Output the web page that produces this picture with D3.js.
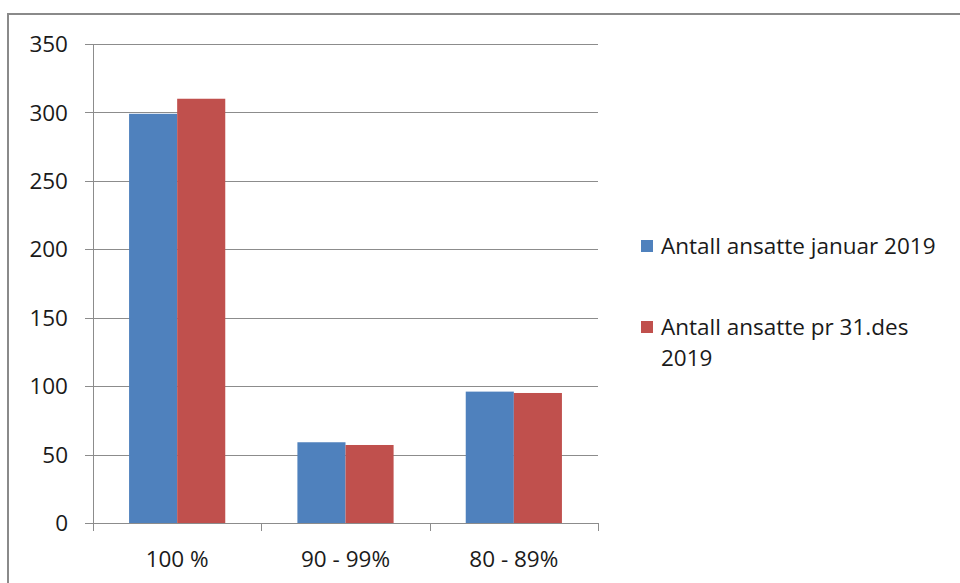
<!DOCTYPE html>
<html><head><meta charset="utf-8">
<script src="https://cdn.jsdelivr.net/npm/d3@7"></script>
<style>body{margin:0;background:#fff}svg{display:block}</style>
</head><body>
<svg id="c" width="960" height="583"></svg>
<script>
const categories = ["100 %", "90 - 99%", "80 - 89%"];
const seriesNames = ["Antall ansatte januar 2019", "Antall ansatte pr 31.des 2019"];
const januar = [299, 59, 96];
const desember = [310, 57, 95];
const yTicks = [0, 50, 100, 150, 200, 250, 300, 350];
const colors = ["#4F81BD", "#C0504D"];

const svg = d3.select("#c");
const font = "'Open Sans', sans-serif";
const fs = 22.5;
const pLeft = 93, pRight = 598, pTop = 44, pBottom = 523;

svg.append("rect").attr("x", 8).attr("y", 14).attr("width", 1000).attr("height", 700)
  .attr("fill", "#fff").attr("stroke", "#8a8a8a").attr("stroke-width", 2);

const x = d3.scaleBand().domain(categories).range([pLeft, pRight]).paddingInner(0).paddingOuter(0);
const y = d3.scaleLinear().domain([0, 350]).range([pBottom, pTop]);
const xs = d3.scaleBand().domain([0, 1]).range([0, x.bandwidth()]).paddingInner(0).paddingOuter(0.75);

// grid
svg.append("g").selectAll("line").data(yTicks).join("line")
  .attr("x1", pLeft - 8).attr("x2", pRight)
  .attr("y1", d => Math.round(y(d)) + 0.5).attr("y2", d => Math.round(y(d)) + 0.5)
  .attr("stroke", "#8c8c8c").attr("stroke-width", 1);

// y axis line
svg.append("line").attr("x1", pLeft + 0.5).attr("x2", pLeft + 0.5).attr("y1", pTop).attr("y2", pBottom)
  .attr("stroke", "#8c8c8c");

// y labels
svg.append("g").selectAll("text").data(yTicks).join("text")
  .attr("x", 68).attr("y", d => y(d)).attr("dy", "0.36em").attr("text-anchor", "end")
  .attr("font-family", font).attr("font-size", fs).attr("fill", "#1a1a1a").text(d => d);

// bars
const series = [januar, desember];
series.forEach((vals, si) => {
  svg.append("g").selectAll("rect").data(categories).join("rect")
    .attr("x", c => x(c) + xs(si)).attr("width", xs.bandwidth())
    .attr("y", (c, i) => y(vals[i])).attr("height", (c, i) => y(0) - y(vals[i]))
    .attr("fill", colors[si]);
});

// x axis ticks
const bounds = categories.map(c => x(c)).concat([pRight]);
svg.append("g").selectAll("line").data(bounds).join("line")
  .attr("x1", d => Math.round(d) + 0.5).attr("x2", d => Math.round(d) + 0.5)
  .attr("y1", pBottom).attr("y2", pBottom + 8).attr("stroke", "#8c8c8c");

svg.append("g").selectAll("text").data(categories).join("text")
  .attr("x", c => x(c) + x.bandwidth() / 2).attr("y", 567).attr("text-anchor", "middle")
  .attr("font-family", font).attr("font-size", fs).attr("fill", "#1a1a1a").text(c => c);

// legend
const lg = svg.append("g");
lg.append("rect").attr("x", 641).attr("y", 240).attr("width", 12).attr("height", 12).attr("fill", colors[0]);
lg.append("text").attr("x", 661).attr("y", 254).attr("font-family", font).attr("font-size", fs)
  .attr("fill", "#1a1a1a").text(seriesNames[0]);
lg.append("rect").attr("x", 641).attr("y", 321).attr("width", 12).attr("height", 12).attr("fill", colors[1]);
lg.append("text").attr("x", 661).attr("y", 335).attr("font-family", font).attr("font-size", fs)
  .attr("fill", "#1a1a1a").text("Antall ansatte pr 31.des");
lg.append("text").attr("x", 661).attr("y", 366).attr("font-family", font).attr("font-size", fs)
  .attr("fill", "#1a1a1a").text("2019");
</script>
</body></html>
